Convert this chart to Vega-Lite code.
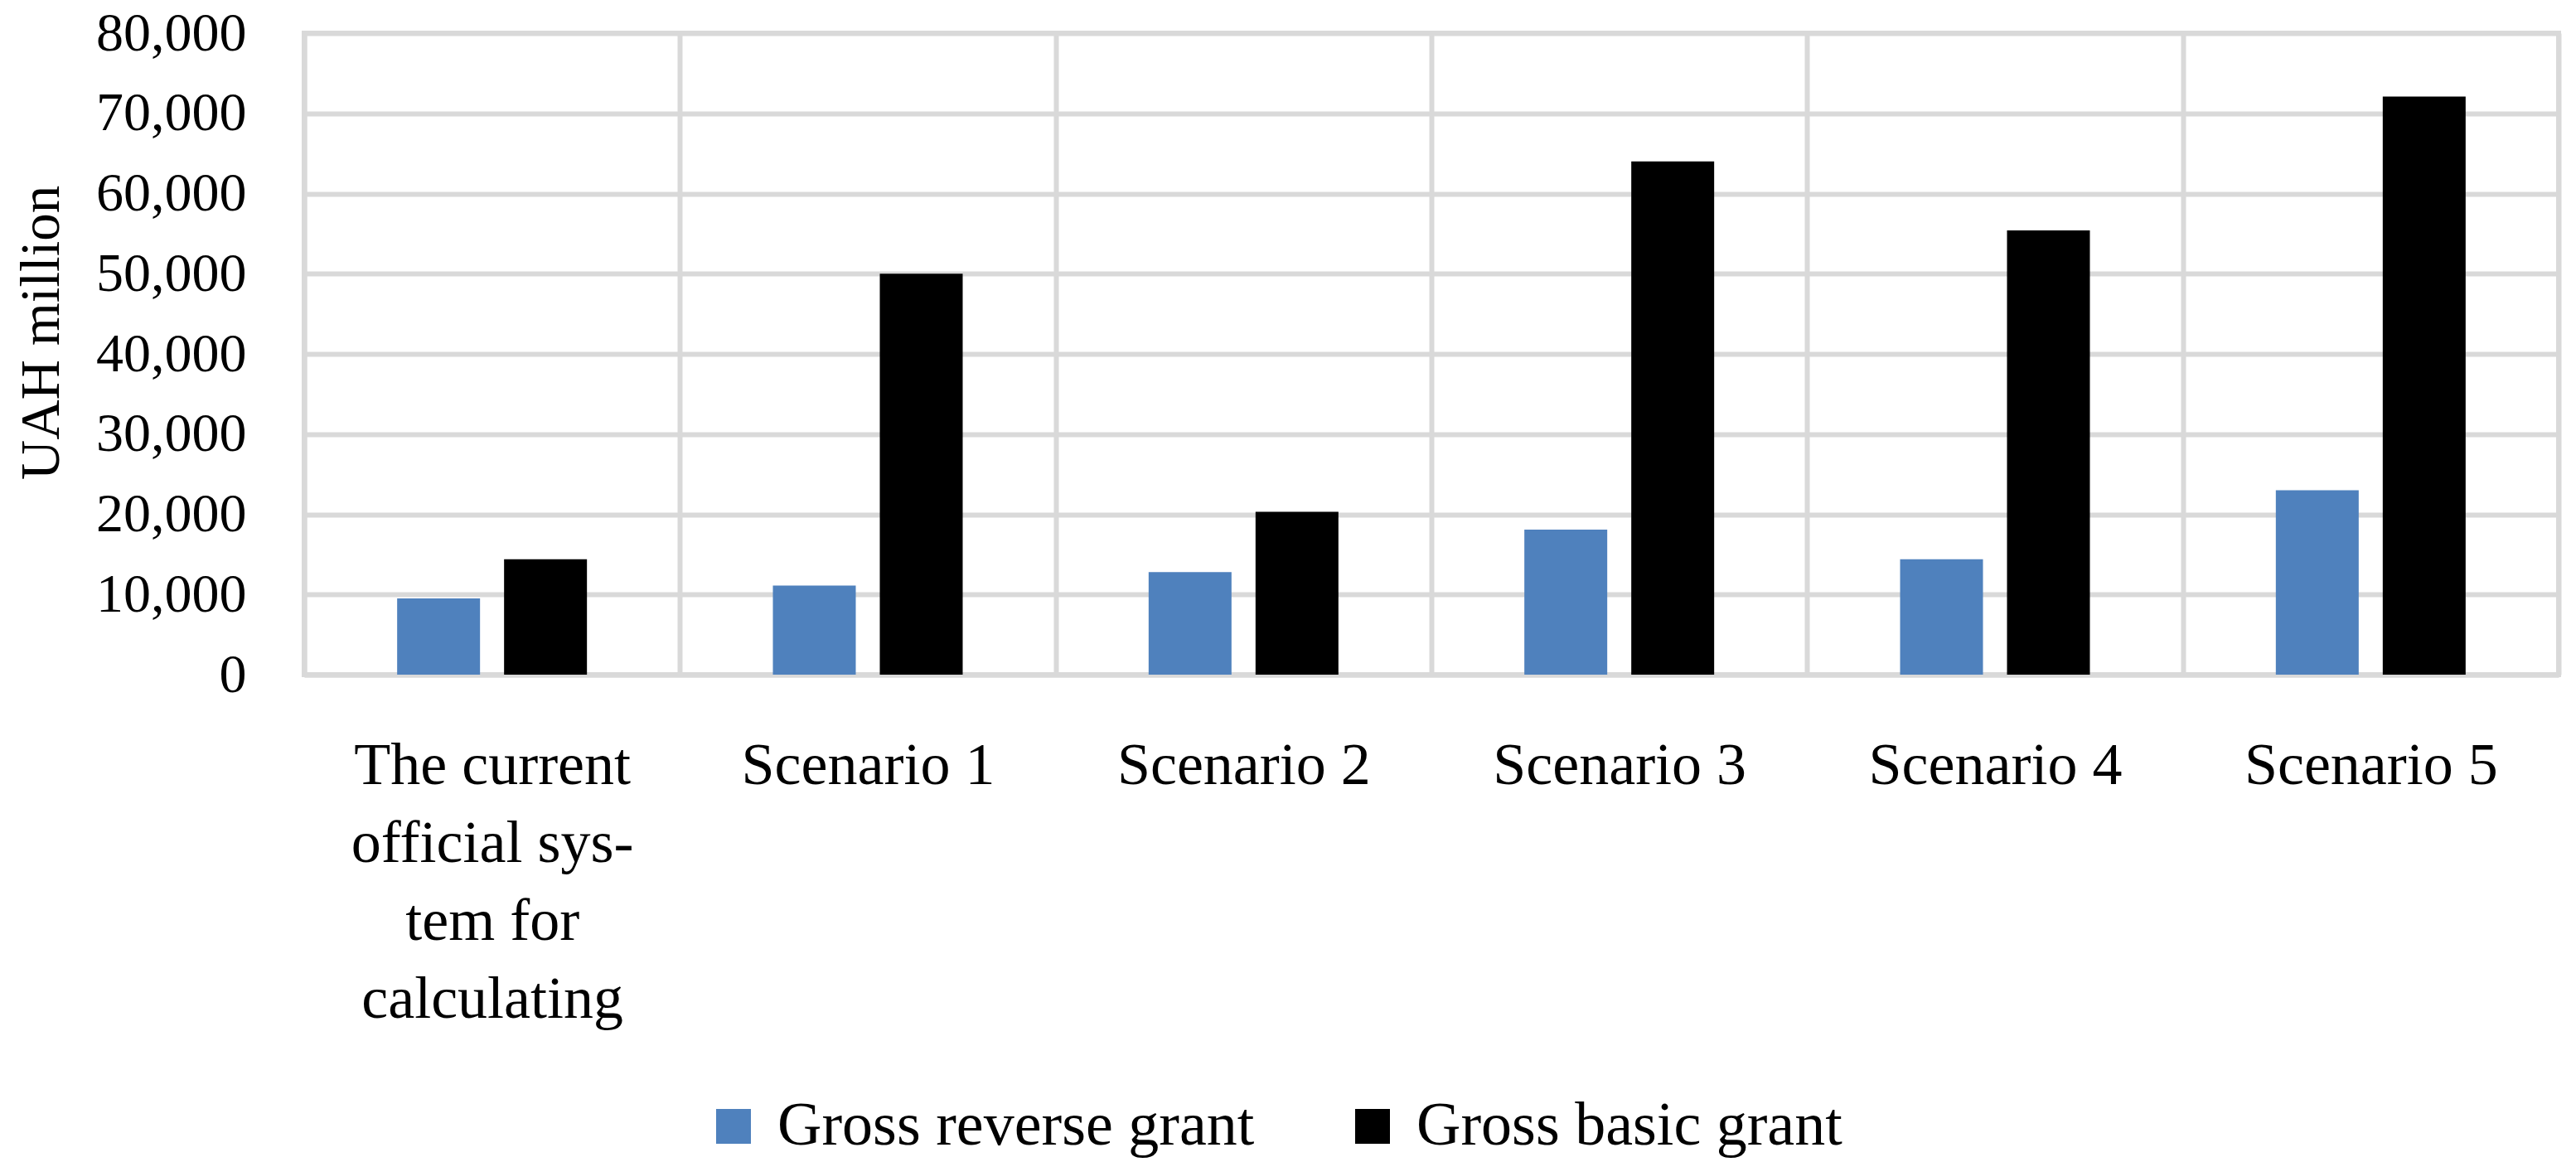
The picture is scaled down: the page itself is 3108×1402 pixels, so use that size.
{
  "$schema": "https://vega.github.io/schema/vega-lite/v6.json",
  "autosize": {"type": "none"},
  "padding": {"left": 367, "top": 40, "right": 21, "bottom": 588},
  "width": 2720,
  "height": 774,
  "background": "white",
  "data": {
    "values": [
      {"scenario": "The current official system for calculating", "series": "Gross reverse grant", "value": 9500},
      {"scenario": "The current official system for calculating", "series": "Gross basic grant", "value": 14400},
      {"scenario": "Scenario 1", "series": "Gross reverse grant", "value": 11100},
      {"scenario": "Scenario 1", "series": "Gross basic grant", "value": 50000},
      {"scenario": "Scenario 2", "series": "Gross reverse grant", "value": 12800},
      {"scenario": "Scenario 2", "series": "Gross basic grant", "value": 20300},
      {"scenario": "Scenario 3", "series": "Gross reverse grant", "value": 18100},
      {"scenario": "Scenario 3", "series": "Gross basic grant", "value": 64000},
      {"scenario": "Scenario 4", "series": "Gross reverse grant", "value": 14400},
      {"scenario": "Scenario 4", "series": "Gross basic grant", "value": 55400},
      {"scenario": "Scenario 5", "series": "Gross reverse grant", "value": 23000},
      {"scenario": "Scenario 5", "series": "Gross basic grant", "value": 72100}
    ]
  },
  "mark": {"type": "bar"},
  "encoding": {
    "x": {
      "field": "scenario",
      "type": "nominal",
      "sort": null,
      "scale": {"paddingInner": 0, "paddingOuter": 0},
      "axis": {
        "title": null,
        "labelAngle": 0,
        "labelFont": "Liberation Serif",
        "labelFontSize": 72,
        "labelColor": "#000000",
        "labelPadding": 74,
        "labelBaseline": "top",
        "labelLineHeight": 94,
        "labelLimit": 0,
        "labelExpr": "datum.value == 'The current official system for calculating' ? ['The current', 'official sys-', 'tem for', 'calculating'] : datum.value",
        "ticks": false,
        "tickSize": 0,
        "tickBand": "extent",
        "grid": true,
        "gridColor": "#d9d9d9",
        "gridWidth": 6,
        "domainColor": "#d9d9d9",
        "domainWidth": 6
      }
    },
    "xOffset": {
      "field": "series",
      "type": "nominal",
      "sort": ["Gross reverse grant", "Gross basic grant"],
      "scale": {"paddingInner": 0.2248, "paddingOuter": 0.8695}
    },
    "y": {
      "field": "value",
      "type": "quantitative",
      "scale": {"domain": [0, 80000], "nice": false},
      "axis": {
        "title": "UAH million",
        "titleFont": "Liberation Serif",
        "titleFontSize": 67,
        "titleFontWeight": "normal",
        "titleColor": "#000000",
        "titleAngle": 270,
        "titleAlign": "center",
        "titleBaseline": "middle",
        "titleX": -317,
        "titleY": 361,
        "values": [0, 10000, 20000, 30000, 40000, 50000, 60000, 70000, 80000],
        "format": ",d",
        "labelFont": "Liberation Serif",
        "labelFontSize": 66,
        "labelColor": "#000000",
        "labelPadding": 70,
        "labelBaseline": "middle",
        "labelLimit": 0,
        "ticks": false,
        "tickSize": 0,
        "grid": true,
        "gridColor": "#d9d9d9",
        "gridWidth": 6,
        "domainColor": "#d9d9d9",
        "domainWidth": 6
      }
    },
    "color": {
      "field": "series",
      "type": "nominal",
      "sort": ["Gross reverse grant", "Gross basic grant"],
      "scale": {"domain": ["Gross reverse grant", "Gross basic grant"], "range": ["#4f81bd", "#000000"]},
      "legend": {
        "title": null,
        "orient": "none",
        "direction": "horizontal",
        "legendX": 481,
        "legendY": 1282,
        "symbolType": "square",
        "symbolSize": 1764,
        "symbolStrokeWidth": 0,
        "symbolOpacity": 1,
        "labelFont": "Liberation Serif",
        "labelFontSize": 74,
        "labelColor": "#000000",
        "labelOffset": 16,
        "labelLimit": 0,
        "columnPadding": 105
      }
    }
  },
  "config": {
    "view": {"stroke": "#d9d9d9", "strokeWidth": 6},
    "axis": {"labelOverlap": false}
  }
}
